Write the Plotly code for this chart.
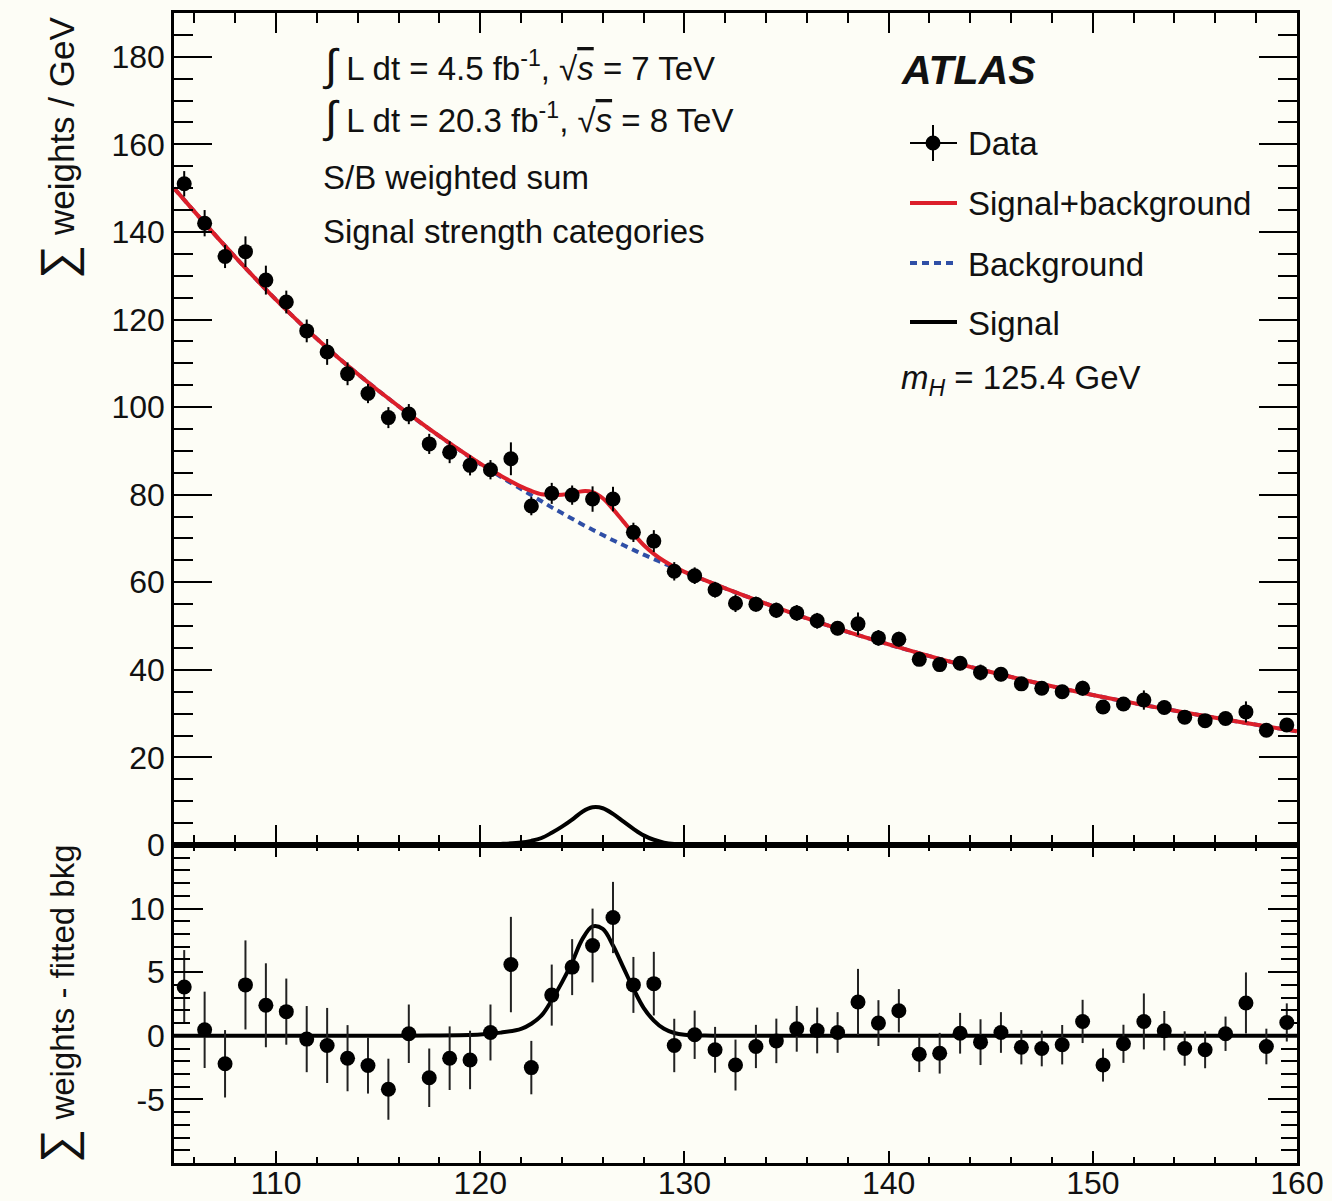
import plotly.graph_objects as go

# ---- diphoton mass spectrum, 1 GeV bins (S/B weighted sum) ----
BIN_CENTERS = [105.5, 106.5, 107.5, 108.5, 109.5, 110.5, 111.5, 112.5, 113.5, 114.5,
               115.5, 116.5, 117.5, 118.5, 119.5, 120.5, 121.5, 122.5, 123.5, 124.5,
               125.5, 126.5, 127.5, 128.5, 129.5, 130.5, 131.5, 132.5, 133.5, 134.5,
               135.5, 136.5, 137.5, 138.5, 139.5, 140.5, 141.5, 142.5, 143.5, 144.5,
               145.5, 146.5, 147.5, 148.5, 149.5, 150.5, 151.5, 152.5, 153.5, 154.5,
               155.5, 156.5, 157.5, 158.5, 159.5]

DATA_Y = [151.0, 142.0, 134.4, 135.5, 129.0, 124.0, 117.4, 112.6, 107.6, 103.1,
          97.6, 98.4, 91.6, 89.7, 86.7, 85.7, 88.2, 77.4, 80.3, 79.9,
          79.0, 79.0, 71.4, 69.4, 62.5, 61.5, 58.3, 55.2, 55.0, 53.6,
          53.0, 51.2, 49.5, 50.5, 47.3, 47.0, 42.4, 41.2, 41.5, 39.4,
          39.0, 36.8, 35.8, 35.0, 35.8, 31.5, 32.2, 33.1, 31.4, 29.2,
          28.4, 28.9, 30.4, 26.2, 27.4]

# data minus fitted background
RESID_Y = [3.84, 0.47, -2.2, 4.0, 2.4, 1.9, -0.26, -0.76, -1.76, -2.34,
           -4.2, 0.16, -3.3, -1.76, -1.9, 0.26, 5.6, -2.5, 3.2, 5.4,
           7.1, 9.3, 4.0, 4.1, -0.76, 0.08, -1.1, -2.3, -0.84, -0.4,
           0.55, 0.42, 0.26, 2.66, 1.0, 1.97, -1.45, -1.37, 0.2, -0.5,
           0.26, -0.9, -1.0, -0.7, 1.13, -2.3, -0.63, 1.13, 0.4, -1.0,
           -1.1, 0.16, 2.58, -0.84, 1.05]

ERR_Y = [2.9, 3.0, 2.65, 3.5, 3.3, 2.6, 2.6, 2.95, 2.6, 2.2,
         2.4, 2.3, 2.3, 2.5, 2.3, 2.2, 3.75, 2.1, 2.4, 2.2,
         2.9, 2.8, 2.2, 2.5, 2.1, 1.9, 1.8, 2.0, 1.7, 1.75,
         1.8, 1.8, 1.6, 2.6, 1.8, 1.7, 1.4, 1.6, 1.6, 1.8,
         1.6, 1.35, 1.4, 1.55, 1.7, 1.3, 1.5, 2.2, 1.55, 1.35,
         1.45, 1.35, 2.4, 1.4, 1.5]

# ---- fitted model, sampled along the mass axis ----
CURVE_X = [105, 107.5, 110, 112.5, 115, 117.5, 120, 121, 122,
           122.5, 123, 123.5, 124, 124.5, 125, 125.5, 126, 126.5, 127,
           127.5, 128, 128.5, 129, 129.5, 130, 131, 132,
           135, 137.5, 140, 142.5, 145, 147.5, 150, 152.5, 155, 157.5, 160]

BKG_Y = [150.0, 136.8, 124.5, 113.5, 103.8, 95.0, 87.0, 84.1, 81.3,
         79.9, 78.5, 77.1, 75.8, 74.5, 73.2, 72.0, 70.8, 69.6, 68.5,
         67.4, 66.3, 65.3, 64.3, 63.3, 62.3, 60.45, 58.6,
         53.4, 49.4, 45.8, 42.5, 39.5, 36.75, 34.25, 31.95, 29.85, 27.85, 25.95]

SIG_Y = [0, 0, 0, 0, 0, 0.02, 0.1, 0.25, 0.55,
         0.95, 1.6, 2.8, 4.2, 5.8, 7.6, 8.6, 8.4, 7.1, 5.4,
         3.7, 2.2, 1.2, 0.55, 0.22, 0.08, 0.02, 0,
         0, 0, 0, 0, 0, 0, 0, 0, 0, 0, 0]

SPLUSB_Y = [b + s for b, s in zip(BKG_Y, SIG_Y)]

X_RANGE = [105, 160]
Y_TOP_RANGE = [0, 190]
Y_BOT_RANGE = [-10, 15]

# ---- styling ----
FONT = "Liberation Sans"
BG = "#fdfdf6"
RED = "#dc1f2a"
BLUE = "#2f4fa6"
INK = "#111111"

W, H = 1332, 1201
L, R, T, B = 174, 1297, 13, 1163
SPLIT = 845  # pixel row where the two pads meet


def px(x):
    return (x - L) / (R - L)


def py(y):
    return (B - y) / (B - T)


fig = go.Figure()

# upper pad
fig.add_trace(go.Scatter(x=CURVE_X, y=BKG_Y, mode="lines", line_shape="spline",
                         line=dict(color=BLUE, width=4, dash="7px,5px"),
                         xaxis="x", yaxis="y", hoverinfo="skip"))
fig.add_trace(go.Scatter(x=CURVE_X, y=SPLUSB_Y, mode="lines", line_shape="spline",
                         line=dict(color=RED, width=4),
                         xaxis="x", yaxis="y", hoverinfo="skip"))
fig.add_trace(go.Scatter(x=CURVE_X, y=SIG_Y, mode="lines", line_shape="spline",
                         line=dict(color="black", width=4),
                         xaxis="x", yaxis="y", hoverinfo="skip"))
fig.add_trace(go.Scatter(x=BIN_CENTERS, y=DATA_Y, mode="markers",
                         marker=dict(color="black", size=15),
                         error_y=dict(type="data", array=ERR_Y, color="black",
                                      thickness=2, width=0),
                         xaxis="x", yaxis="y"))

# lower pad
fig.add_trace(go.Scatter(x=CURVE_X, y=SIG_Y, mode="lines", line_shape="spline",
                         line=dict(color="black", width=4),
                         xaxis="x2", yaxis="y2", hoverinfo="skip"))
fig.add_trace(go.Scatter(x=BIN_CENTERS, y=RESID_Y, mode="markers",
                         marker=dict(color="black", size=15),
                         error_y=dict(type="data", array=ERR_Y, color="#222222",
                                      thickness=2, width=0),
                         xaxis="x2", yaxis="y2"))

split_frac = py(SPLIT)
tickfont = dict(family=FONT, size=32, color=INK)


def xaxis_style(major_len, minor_len, labels, anchor):
    return dict(range=X_RANGE, anchor=anchor, showgrid=False, zeroline=False,
                automargin=False,
                showline=True, linecolor="black", linewidth=2.5, mirror="ticks",
                ticks="inside", ticklen=major_len, tickwidth=2, tickcolor="black",
                tick0=0, dtick=10, showticklabels=labels, tickfont=tickfont,
                ticklabelstandoff=-10,
                minor=dict(dtick=2, ticks="inside", ticklen=minor_len, tickwidth=2,
                           tickcolor="black", showgrid=False))


def yaxis_style(rng, dom, minor, major_len, minor_len, tickvals, anchor):
    return dict(range=rng, domain=dom, anchor=anchor, showgrid=False, zeroline=False,
                automargin=False,
                showline=True, linecolor="black", linewidth=2.5, mirror="ticks",
                ticks="inside", ticklen=major_len, tickwidth=2, tickcolor="black",
                tickmode="array", tickvals=tickvals,
                ticktext=[str(v) for v in tickvals], tickfont=tickfont,
                ticklabelstandoff=0,
                minor=dict(tick0=0, dtick=minor, ticks="inside", ticklen=minor_len,
                           tickwidth=2, tickcolor="black", showgrid=False))


fig.update_layout(
    width=W, height=H, autosize=False,
    margin=dict(l=L, r=W - R, t=T, b=H - B, pad=0, autoexpand=False),
    paper_bgcolor=BG, plot_bgcolor=BG,
    showlegend=False,
    font=dict(family=FONT, size=32, color=INK),
    xaxis=xaxis_style(20, 10, False, "y"),
    yaxis=yaxis_style(Y_TOP_RANGE, [split_frac, 1], 5, 38, 19,
                      [0, 20, 40, 60, 80, 100, 120, 140, 160, 180], "x"),
    xaxis2=xaxis_style(12, 6, True, "y2"),
    yaxis2=yaxis_style(Y_BOT_RANGE, [0, split_frac], 1, 29, 16,
                       [-5, 0, 5, 10], "x2"),
)


def label(text, x, y, size=33, xanchor="left", angle=0):
    fig.add_annotation(text=text, x=px(x), y=py(y), xref="paper", yref="paper",
                       xanchor=xanchor, yanchor="middle", showarrow=False,
                       textangle=angle,
                       font=dict(family=FONT, size=size, color=INK))


INTEGRAL = '<span style="font-size:44px">∫</span>'
ROOTS = '√<span style="text-decoration:overline"><i>s</i></span>'

label(INTEGRAL + " L dt = 4.5 fb<sup>-1</sup>, " + ROOTS + " = 7 TeV", 320, 65)
label(INTEGRAL + " L dt = 20.3 fb<sup>-1</sup>, " + ROOTS + " = 8 TeV", 320, 117)
label("S/B weighted sum", 321, 178)
label("Signal strength categories", 321, 232)

label("<b><i>ATLAS</i></b>", 899, 70, size=41)
label("Data", 966, 143)
label("Signal+background", 966, 204)
label("Background", 966, 264)
label("Signal", 966, 323)
label("<i>m</i><sub><i>H</i></sub> = 125.4 GeV", 899, 380)

SIGMA = '<span style="font-size:48px">∑</span>'
label(SIGMA + " weights / GeV", 58, 148, size=35, xanchor="center", angle=-90)
label(SIGMA + " weights - fitted bkg", 58, 1004, size=33, xanchor="center", angle=-90)

# hand-drawn legend glyphs
def hline(x0, x1, y, color, width, dash="solid"):
    fig.add_shape(type="line", xref="paper", yref="paper",
                  x0=px(x0), x1=px(x1), y0=py(y), y1=py(y),
                  line=dict(color=color, width=width, dash=dash))


hline(910, 957, 143, "black", 2)
fig.add_shape(type="line", xref="paper", yref="paper",
              x0=px(933), x1=px(933), y0=py(125), y1=py(161),
              line=dict(color="black", width=2))
fig.add_shape(type="circle", xref="paper", yref="paper",
              x0=px(925.5), x1=px(940.5), y0=py(135.5), y1=py(150.5),
              fillcolor="black", line=dict(color="black", width=0))
hline(910, 957, 203, RED, 4)
hline(910, 957, 263, BLUE, 4, "7px,5px")
hline(910, 957, 322, "black", 4)

fig.write_html("out.html")
